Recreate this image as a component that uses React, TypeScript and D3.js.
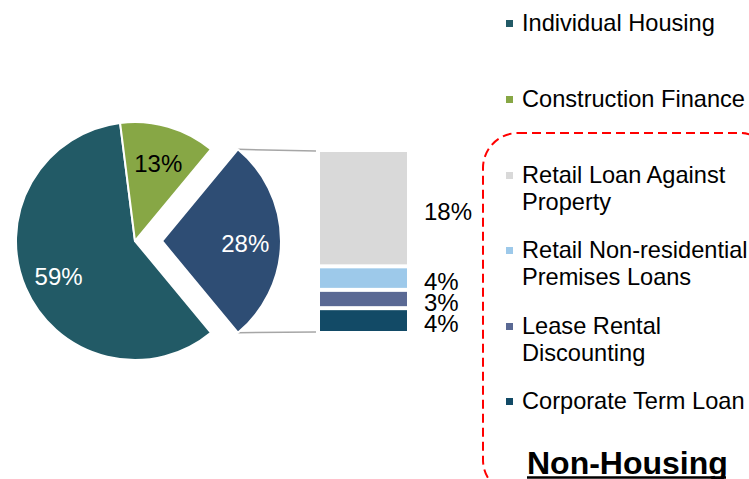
import React from "react";
import * as d3 from "d3";

const pieCategories = ["Non-Housing", "Individual Housing", "Construction Finance"];
const pieValues = [28, 59, 13];
const pieColors = ["#2E4D74", "#225A66", "#87A745"];
const pieLabelColors = ["#FFFFFF", "#FFFFFF", "#000000"];

const barCategories = [
  "Retail Loan Against Property",
  "Retail Non-residential Premises Loans",
  "Lease Rental Discounting",
  "Corporate Term Loan",
];
const barValues = [17.8, 3.6, 2.8, 3.8];
const barLabels = ["18%", "4%", "3%", "4%"];
const barColors = ["#D9D9D9", "#9DC9EA", "#5A6994", "#124A66"];

const legendLines = [
  ["Individual Housing"],
  ["Construction Finance"],
  ["Retail Loan Against", "Property"],
  ["Retail Non-residential", "Premises Loans"],
  ["Lease Rental", "Discounting"],
  ["Corporate Term Loan"],
];
const legendColors = ["#225A66", "#87A745", "#D9D9D9", "#9DC9EA", "#5A6994", "#124A66"];

const FONT = "'Liberation Sans', Arial, sans-serif";

export default function App() {
  const W = 749, H = 479;
  const cx = 135, cy = 241, r = 119;
  const explode = 27;

  const total = d3.sum(pieValues);
  const half = (pieValues[0] / total) * Math.PI;
  const pie = d3.pie<number>().sort(null).startAngle(Math.PI / 2 - half).endAngle(Math.PI / 2 - half + 2 * Math.PI);
  const arcs = pie(pieValues);
  const arcGen = d3.arc<d3.PieArcDatum<number>>().innerRadius(0).outerRadius(r);
  const labelArc = d3.arc<d3.PieArcDatum<number>>().innerRadius(r * 0.7).outerRadius(r * 0.7);

  // bar
  const barX0 = 318, barX1 = 409;
  const yScale = d3.scaleLinear().domain([0, d3.sum(barValues)]).range([150, 333]);
  let acc = 0;
  const segs = barValues.map((v, i) => {
    const s = { y0: yScale(acc), y1: yScale(acc + v), i };
    acc += v;
    return s;
  });

  const a0 = arcs[0].startAngle, a1 = arcs[0].endAngle;
  const ex = cx + explode;
  const p0 = [ex + r * Math.sin(a0), cy - r * Math.cos(a0)];
  const p1 = [ex + r * Math.sin(a1), cy - r * Math.cos(a1)];

  const legendY = [31, 107, 183, 258, 334, 409];
  const lineH = 26.5;

  return (
    <svg width={W} height={H} style={{ position: "absolute", left: 0, top: 0, background: "#fff" }} fontFamily={FONT}>
      <line x1={p0[0]} y1={p0[1]} x2={barX0 - 2} y2={yScale(0) + 1} stroke="#A6A6A6" strokeWidth={1.5} />
      <line x1={p1[0]} y1={p1[1]} x2={barX0 - 2} y2={yScale(d3.sum(barValues)) - 1} stroke="#A6A6A6" strokeWidth={1.5} />
      {arcs.map((a, i) => {
        const mid = (a.startAngle + a.endAngle) / 2;
        const dx = i === 0 ? explode * Math.sin(mid) : 0;
        const dy = i === 0 ? -explode * Math.cos(mid) : 0;
        const [lx, ly] = labelArc.centroid(a);
        return (
          <g key={i} transform={`translate(${cx + dx},${cy + dy})`}>
            <path d={arcGen(a) || ""} fill={pieColors[i]} stroke="#fff" strokeWidth={2} strokeLinejoin="round" />
            <text x={lx} y={ly + 2} textAnchor="middle" dominantBaseline="central" fontSize={24} fill={pieLabelColors[i]}>
              {Math.round((pieValues[i] / total) * 100)}%
            </text>
          </g>
        );
      })}
      {segs.map((s) => (
        <g key={s.i}>
          <rect x={barX0 + 2} y={s.y0 + 2} width={barX1 - barX0 - 4} height={s.y1 - s.y0 - 4} fill={barColors[s.i]} />
          <text x={424} y={(s.y0 + s.y1) / 2 + 3} dominantBaseline="central" fontSize={24} fill="#000">
            {barLabels[s.i]}
          </text>
        </g>
      ))}
      {legendLines.map((lines, i) => (
        <g key={i}>
          <rect x={506} y={legendY[i] - 11} width={7} height={7} fill={legendColors[i]} />
          {lines.map((t, j) => (
            <text key={j} x={522} y={legendY[i] + j * lineH} fontSize={23.6} fill="#000">
              {t}
            </text>
          ))}
        </g>
      ))}
      <rect x={483} y={133} width={292} height={362} rx={35} ry={35} fill="none" stroke="#FF0000" strokeWidth={2} strokeDasharray="9,5" />
      <text x={527} y={474} fontSize={32} fontWeight="bold" fill="#000">
        Non-Housing
      </text>
      <line x1={527} x2={726} y1={477.5} y2={477.5} stroke="#000" strokeWidth={2.5} />
    </svg>
  );
}
